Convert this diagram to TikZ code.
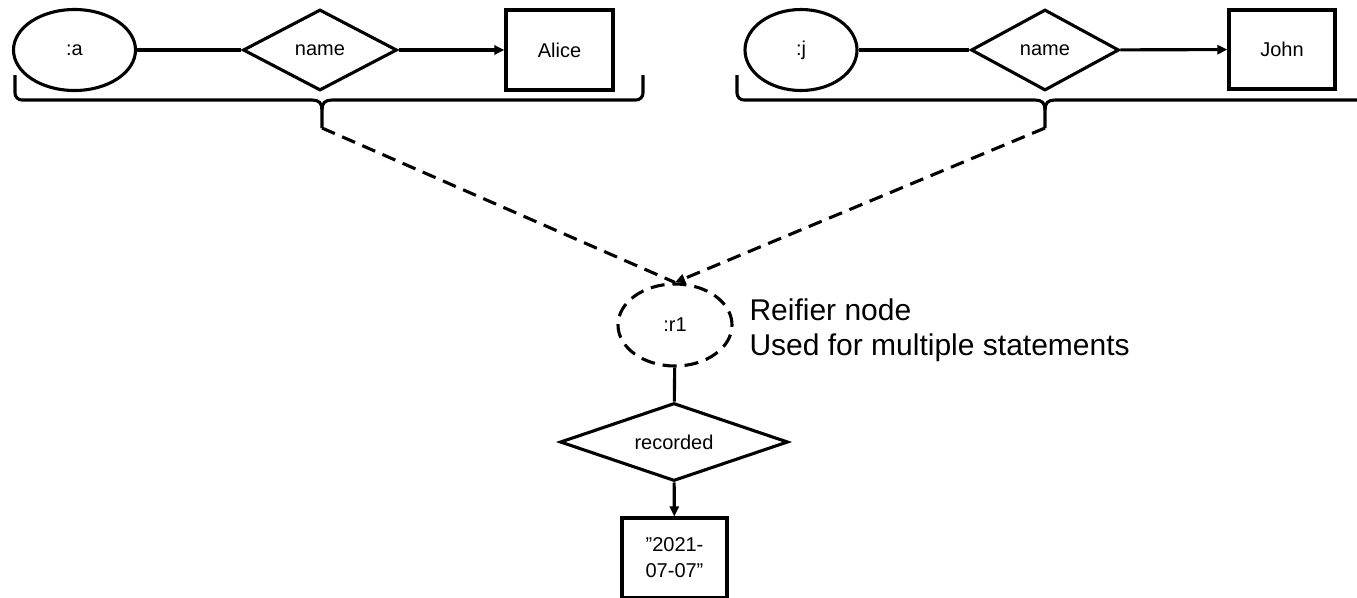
\documentclass[tikz,border=0pt]{standalone}
\usepackage{fontspec}
\setmainfont{Liberation Sans}
\usetikzlibrary{shapes.geometric,arrows.meta}

\begin{document}
\begin{tikzpicture}[x=1pt,y=-1pt,
  line width=3.1pt,
  lbl/.style={font=\fontsize{20}{26}\selectfont},
  resource/.style={ellipse,draw,inner sep=0pt,lbl},
  predicate/.style={diamond,draw,inner sep=0pt,aspect=2.9,lbl},
  literal/.style={rectangle,draw,inner sep=0pt,lbl,align=center},
  reifier/.style={ellipse,draw,dash pattern=on 14pt off 8pt,inner sep=0pt,lbl},
  tipped/.style={-{Triangle[length=10pt,width=9pt]}},
  linkdash/.style={dash pattern=on 14pt off 8pt},
  notetext/.style={font=\fontsize{30}{35}\selectfont}
]
\useasboundingbox (0,0) rectangle (1357,597);

% first statement: :a name Alice
\node[resource,minimum width=122pt,minimum height=81pt] (a) at (74.5,50) {:a};
\node[predicate,minimum width=154pt,minimum height=81pt] (n1) at (320,50) {name};
\node[literal,minimum width=107pt,minimum height=80pt] (alice) at (559.5,50) {Alice};
\draw (a) -- (n1);
\draw[tipped] (n1) -- (alice);

% second statement: :j name John
\node[resource,minimum width=112pt,minimum height=81pt] (j) at (801,50) {:j};
\node[predicate,minimum width=148pt,minimum height=81pt] (n2) at (1045,50) {name};
\node[literal,minimum width=106pt,minimum height=79pt] (john) at (1282,49.5) {John};
\draw (j) -- (n2);
\draw[tipped] (n2) -- (john);

% braces grouping each statement
\coordinate (tip1) at (322,128);
\coordinate (tip2) at (1045,128);
\draw (15,75) -- (15,93) to[out=-90,in=180] (22,100) -- (312,100)
      .. controls (319,100) and (322,103) .. (322,110) -- (tip1);
\draw (322,110) .. controls (322,103) and (325,100) .. (332,100)
      -- (636,100) to[out=0,in=-90] (643,93) -- (643,75);
\draw (737,75) -- (737,93) to[out=-90,in=180] (744,100) -- (1035,100)
      .. controls (1042,100) and (1045,103) .. (1045,110) -- (tip2);
\draw (1045,110) .. controls (1045,103) and (1048,100) .. (1055,100)
      -- (1370,100);

% reifier node and its annotation
\node[reifier,minimum width=114pt,minimum height=82pt] (r1) at (675,325) {:r1};
\draw[linkdash] (tip1) -- (r1.north);
\draw[linkdash,tipped] (tip2) -- (r1.north);
\node[notetext,anchor=base west,inner sep=0pt] (note1) at (748,320) {Reifier node};
\node[notetext,anchor=base west,inner sep=0pt] (note2) at (748,355) {Used for multiple statements};

% statement about the reifier
\node[predicate,minimum width=228pt,minimum height=78pt] (rec) at (674,442) {recorded};
\node[literal,minimum width=105pt,minimum height=80pt] (date) at (674.5,558) {”2021-\\07-07”};
\draw (r1) -- (rec);
\draw[tipped] (rec) -- (date);
\end{tikzpicture}
\end{document}
